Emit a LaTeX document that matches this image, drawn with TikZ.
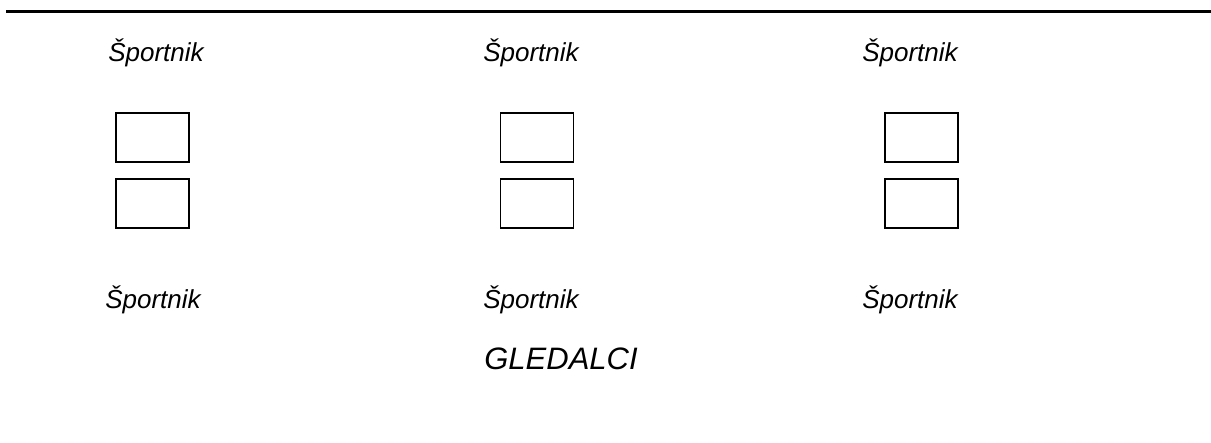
\documentclass[tikz,border=0pt]{standalone}
\usepackage{fontspec}
\setmainfont{Liberation Sans}
\usepackage{tikz}
\usetikzlibrary{positioning}

\begin{document}
\begin{tikzpicture}[x=0.5pt, y=-0.5pt,
    athlete/.style={anchor=base, inner sep=0pt, font=\fontsize{13}{15}\selectfont\itshape},
    seat/.style={draw=black, line width=0.75pt, minimum width=36.5pt, minimum height=24.5pt, inner sep=0pt}]
  \useasboundingbox (0,0) rectangle (1211,443);
  % rule on top
  \draw[line width=1.6pt] (6,11.5) -- (1211,11.5);
  % athletes, upper row
  \node[athlete] (topA) at (156,62) {Športnik};
  \node[athlete] (topB) at (531,62) {Športnik};
  \node[athlete] (topC) at (910,62) {Športnik};
  % boxes
  \node[seat] (seatA1) at (152.5,137.5) {};
  \node[seat] (seatA2) at (152.5,203.5) {};
  \node[seat] (seatB1) at (537,137.5) {};
  \node[seat] (seatB2) at (537,203.5) {};
  \node[seat] (seatC1) at (921.5,137.5) {};
  \node[seat] (seatC2) at (921.5,203.5) {};
  % athletes, lower row
  \node[athlete] (botA) at (153,309) {Športnik};
  \node[athlete] (botB) at (531,309) {Športnik};
  \node[athlete] (botC) at (910,309) {Športnik};
  % spectators
  \node[anchor=base, inner sep=0pt, font=\fontsize{15.5}{18}\selectfont\itshape] (crowd) at (561,370) {GLEDALCI};
\end{tikzpicture}
\end{document}
